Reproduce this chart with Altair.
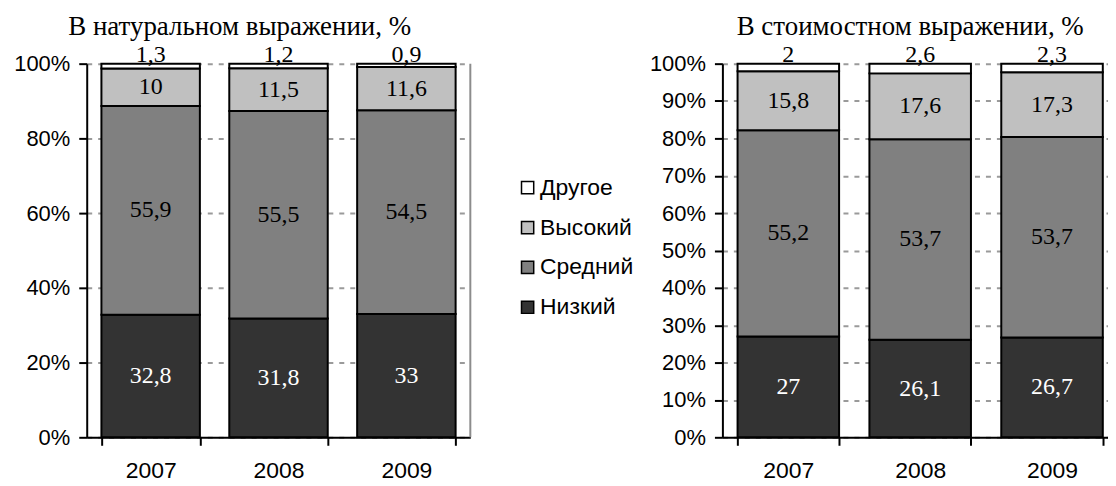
import altair as alt
import pandas as pd

years = ["2007", "2008", "2009"]
categories = ["Низкий", "Средний", "Высокий", "Другое"]
legend_order = ["Другое", "Высокий", "Средний", "Низкий"]
legend_colors = ["#ffffff", "#c0c0c0", "#808080", "#333333"]

nat_low = [32.8, 31.8, 33.0]
nat_mid = [55.9, 55.5, 54.5]
nat_high = [10.0, 11.5, 11.6]
nat_other = [1.3, 1.2, 0.9]

val_low = [27.0, 26.1, 26.7]
val_mid = [55.2, 53.7, 53.7]
val_high = [15.8, 17.6, 17.3]
val_other = [2.0, 2.6, 2.3]

left_ticks = [0, 20, 40, 60, 80, 100]
right_ticks = [0, 10, 20, 30, 40, 50, 60, 70, 80, 90, 100]

title_left = "В натуральном выражении, %"
title_right = "В стоимостном выражении, %"

SANS = "Liberation Sans"
SERIF = "Liberation Serif"


def make_df(series):
    rows = []
    for ci, (cat, vals) in enumerate(zip(categories, series)):
        for y, v in zip(years, vals):
            rows.append({"year": y, "cat": cat, "order": ci, "value": v,
                         "label": f"{v:g}".replace(".", ",")})
    return pd.DataFrame(rows)


def panel(df, width, height, ticks, title_text, title_dx, legend, border):
    base = alt.Chart(df).transform_stack(
        stack="value", groupby=["year"],
        sort=[alt.SortField("order", order="ascending")],
        as_=["y0", "y1"],
    ).transform_calculate(mid="(datum.y0 + datum.y1) / 2")

    xenc = alt.X("year:N", title=None,
                 scale=alt.Scale(paddingInner=0.23, paddingOuter=0.115),
                 axis=alt.Axis(tickBand="extent", labelAngle=0, labelFont=SANS,
                               labelFontSize=23, labelColor="black", labelPadding=14,
                               tickSize=8, tickWidth=2, tickColor="black",
                               domainColor="black", domainWidth=2, grid=False))
    yscale = alt.Scale(domain=[0, 100], nice=False, zero=True)
    yaxis = alt.Axis(values=ticks, labelExpr="datum.value + '%'", labelFont=SANS,
                     labelFontSize=22, labelColor="black", labelPadding=9,
                     tickSize=8, tickWidth=2, tickColor="black",
                     domainColor="black", domainWidth=2, grid=True,
                     gridColor="#9a9a9a", gridWidth=2, gridDash=[5, 6], title=None)

    bars = base.mark_bar(stroke="black", strokeWidth=2).encode(
        x=xenc,
        y=alt.Y("y0:Q", scale=yscale, axis=yaxis),
        y2="y1:Q",
        color=alt.Color("cat:N", scale=alt.Scale(domain=legend_order, range=legend_colors),
                        legend=legend),
    )
    mids = base.transform_filter(alt.datum.cat != "Другое").mark_text(
        font=SERIF, fontSize=24, baseline="middle", align="center"
    ).encode(
        x=xenc,
        y=alt.Y("mid:Q", scale=yscale, axis=yaxis),
        text="label:N",
        color=alt.condition(alt.datum.cat == "Низкий", alt.value("white"), alt.value("black")),
    )
    tops = base.transform_filter(alt.datum.cat == "Другое").mark_text(
        font=SERIF, fontSize=24, baseline="alphabetic", align="center", dy=-2, color="black"
    ).encode(
        x=xenc,
        y=alt.Y("y1:Q", scale=yscale, axis=yaxis),
        text="label:N",
    )
    layers = [bars, mids, tops]
    if border:
        edge = alt.Chart(pd.DataFrame({"k": [0]})).mark_rule(color="#8c8c8c", strokeWidth=2).encode(
            x=alt.value(width), y=alt.value(0), y2=alt.value(height))
        layers.insert(0, edge)
    return alt.layer(*layers).properties(
        width=width, height=height,
        title=alt.TitleParams(title_text, font=SERIF, fontSize=27, fontWeight="normal",
                              color="black", anchor="middle", dx=title_dx, offset=2),
    )


left_legend = alt.Legend(orient="none", legendX=431, legendY=113, title=None,
                         symbolType="square", symbolSize=150, symbolStrokeColor="black",
                         symbolStrokeWidth=1.5, labelFont=SANS, labelFontSize=23,
                         labelColor="black", rowPadding=16, labelOffset=1)

left = panel(make_df([nat_low, nat_mid, nat_high, nat_other]), 385, 375, left_ticks,
             title_left, -39, left_legend, True)
right = panel(make_df([val_low, val_mid, val_high, val_other]), 397, 375, right_ticks,
              title_right, -10, None, False)

chart = alt.hconcat(left, right, spacing=253, bounds="flush").resolve_scale(
    color="independent"
).properties(
    padding={"left": 5, "top": 4, "right": -10, "bottom": 0}
).configure_view(stroke=None)

chart.save("out.html", embed_options={"renderer": "svg", "actions": False})
